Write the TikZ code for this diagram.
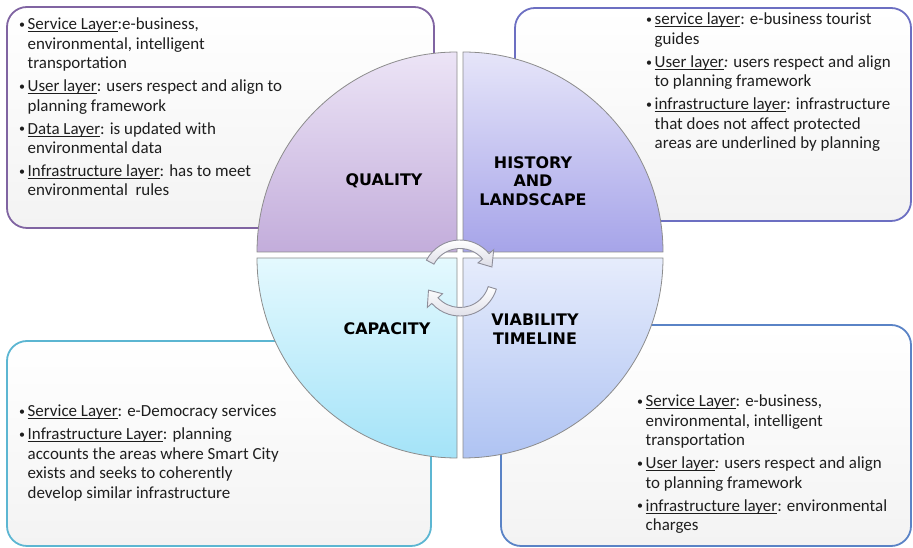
\documentclass[tikz,border=0pt]{standalone}
\usepackage{fontspec}
\setmainfont{Carlito}
\newfontfamily\labelfont{DejaVu Sans}
\definecolor{tlborder}{HTML}{8064A2}
\definecolor{trborder}{HTML}{6C6FC2}
\definecolor{blborder}{HTML}{5CB6D2}
\definecolor{brborder}{HTML}{5A83C6}
\definecolor{boxbot}{HTML}{F3F3F3}
\definecolor{qline}{HTML}{8C8C8C}
\definecolor{qonetop}{HTML}{ECE4F6}
\definecolor{qonebot}{HTML}{C3ADDB}
\definecolor{qtwotop}{HTML}{E6E5F9}
\definecolor{qtwobot}{HTML}{A6A4E9}
\definecolor{qthreetop}{HTML}{E4F9FE}
\definecolor{qthreebot}{HTML}{A4E3F8}
\definecolor{qfourtop}{HTML}{E6ECFC}
\definecolor{qfourbot}{HTML}{AFC3F2}
\definecolor{textcol}{HTML}{1E1E1E}
\definecolor{arrline}{HTML}{8E8E9A}
\definecolor{arrbot}{HTML}{DCDCE6}
\newcommand\ulx[1]{\setbox0\hbox{#1}\rlap{\rule[-2.2bp]{\wd0}{0.7bp}}\box0}
\newcommand\bul{\makebox[8.5bp][l]{\raisebox{1.2bp}{\fontsize{12}{12}\selectfont\textbullet}}}
\tikzset{
  boxshape/.style={line width=1.8bp, rounded corners=20bp, top color=white, bottom color=boxbot},
  quad/.style={draw=qline, line width=0.8bp},
  lbl/.style={font=\labelfont\bfseries\fontsize{16}{18.5}\selectfont, align=center, inner sep=0pt, text=black},
  txt/.style={anchor=base west, inner sep=0pt, text=textcol, font=\fontsize{17}{19.5}\selectfont},
  arrowshape/.style={draw=arrline, line width=0.9bp, top color=white, bottom color=arrbot}
}
\begin{document}
\begin{tikzpicture}[x=1bp,y=1bp]
\useasboundingbox (0,0) rectangle (913,548);
% boxes
\path[boxshape, draw=tlborder] (7,541) rectangle (434,320);
\path[boxshape, draw=trborder] (515,540) rectangle (911,327);
\path[boxshape, draw=blborder] (7,207) rectangle (431,2);
\path[boxshape, draw=brborder] (501,223) rectangle (911,2);
% quadrants
\path[quad, top color=qonetop, bottom color=qonebot] (457,296) -- (257,296) arc[start angle=180, end angle=90, radius=200] -- cycle;
\path[quad, top color=qtwotop, bottom color=qtwobot] (463,296) -- (463,496) arc[start angle=90, end angle=0, radius=200] -- cycle;
\path[quad, top color=qthreetop, bottom color=qthreebot] (457,290) -- (257,290) arc[start angle=180, end angle=270, radius=200] -- cycle;
\path[quad, top color=qfourtop, bottom color=qfourbot] (463,290) -- (663,290) arc[start angle=0, end angle=-90, radius=200] -- cycle;
% labels
\node[lbl] (quality) at (384,367) {QUALITY};
\node[lbl] (history) at (533,367) {HISTORY\\AND\\LANDSCAPE};
\node[lbl] (capacity) at (387,219) {CAPACITY};
\node[lbl] (viability) at (535,219) {VIABILITY\\TIMELINE};
% cycle arrows
\begin{scope}[shift={(460,270)}]
\path[arrowshape] (152:38) arc[start angle=152, end angle=40, radius=38] -- (40:44) -- (19:33.75) -- (40:23.5) -- (40:29.5) arc[start angle=40, end angle=152, radius=29.5] -- cycle;
\path[arrowshape] (-17:38) arc[start angle=-17, end angle=-138, radius=38] -- (-138:44) -- (-159:33.75) -- (-138:23.5) -- (-138:29.5) arc[start angle=-138, end angle=-17, radius=29.5] -- cycle;
\end{scope}
% texts
\node[txt] (tltext) at (19,518) {\begin{tabular}[t]{@{}l@{}l@{}}
\bul & \ulx{Service Layer}:e-business,\\
 & environmental, intelligent\\
 & transportation\\[3.5bp]
\bul & \ulx{User layer}: users respect and align to\\
 & planning framework\\[3.5bp]
\bul & \ulx{Data Layer}: is updated with\\
 & environmental data\\[3.5bp]
\bul & \ulx{Infrastructure layer}: has to meet\\
 & environmental\ \ rules
\end{tabular}};
\node[txt] (trtext) at (646,523) {\begin{tabular}[t]{@{}l@{}l@{}}
\bul & \ulx{service layer}: e-business tourist\\
 & guides\\[3.5bp]
\bul & \ulx{User layer}\textit{:} users respect and align\\
 & to planning framework\\[3.5bp]
\bul & \ulx{infrastructure layer}: infrastructure\\
 & that does not affect protected\\
 & areas are underlined by planning
\end{tabular}};
\node[txt] (bltext) at (19,131) {\begin{tabular}[t]{@{}l@{}l@{}}
\bul & \ulx{Service Layer}: e-Democracy services\\[3.5bp]
\bul & \ulx{Infrastructure Layer}: planning\\
 & accounts the areas where Smart City\\
 & exists and seeks to coherently\\
 & develop similar infrastructure
\end{tabular}};
\node[txt] (brtext) at (637,141) {\begin{tabular}[t]{@{}l@{}l@{}}
\bul & \ulx{Service Layer}: e-business,\\
 & environmental, intelligent\\
 & transportation\\[3.5bp]
\bul & \ulx{User layer}\textit{:} users respect and align\\
 & to planning framework\\[3.5bp]
\bul & \ulx{infrastructure layer}: environmental\\
 & charges
\end{tabular}};
\end{tikzpicture}
\end{document}
